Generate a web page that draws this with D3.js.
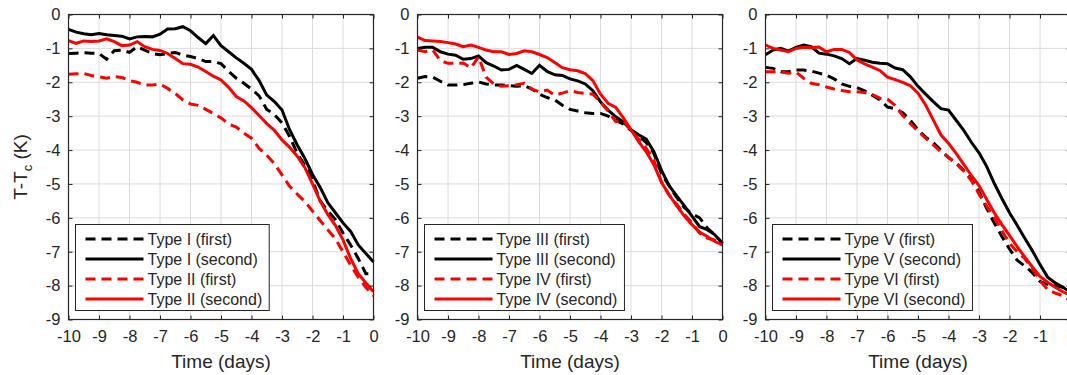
<!DOCTYPE html>
<html>
<head>
<meta charset="utf-8">
<script src="https://cdn.jsdelivr.net/npm/d3@7"></script>
<style>
  body { margin: 0; background: #fff; }
  text { font-family: Arial, "Liberation Sans", sans-serif; fill: #262626; }
</style>
</head>
<body>
<svg id="chart"></svg>
<script>
// time axis (days before event), shared by all series
const times = [-10, -9.75, -9.5, -9.25, -9, -8.75, -8.5, -8.25, -8, -7.75, -7.5, -7.25, -7, -6.75,
  -6.5, -6.25, -6, -5.75, -5.5, -5.25, -5, -4.75, -4.5, -4.25, -4, -3.75, -3.5, -3.25, -3,
  -2.75, -2.5, -2.25, -2, -1.75, -1.5, -1.25, -1, -0.75, -0.5, -0.25, 0];

// panel 1
const typeIFirst = [-1.15, -1.14, -1.13, -1.14, -1.15, -1.32, -1.07, -1.05, -1.12, -0.95, -1.05, -1.15, -1.19, -1.15,
  -1.12, -1.2, -1.24, -1.3, -1.39, -1.39, -1.45, -1.68, -1.88, -2.03, -2.2, -2.4, -2.8, -2.95, -3.2,
  -3.6, -4.1, -4.45, -4.88, -5.5, -5.8, -6.05, -6.45, -6.8, -7.2, -7.65, -7.65];
const typeISecond = [-0.44, -0.52, -0.57, -0.6, -0.56, -0.6, -0.62, -0.64, -0.72, -0.66, -0.65, -0.66, -0.58, -0.43,
  -0.42, -0.36, -0.48, -0.68, -0.86, -0.62, -0.92, -1.1, -1.28, -1.44, -1.62, -1.95, -2.38, -2.57, -2.82,
  -3.4, -3.85, -4.25, -4.72, -5.1, -5.55, -5.85, -6.15, -6.4, -6.8, -7.05, -7.3];
const typeIIFirst = [-1.76, -1.75, -1.74, -1.8, -1.84, -1.88, -1.83, -1.86, -1.95, -2.0, -2.08, -2.08, -2.05, -2.18,
  -2.33, -2.52, -2.64, -2.68, -2.8, -2.92, -3.05, -3.23, -3.32, -3.5, -3.65, -3.95, -4.15, -4.4, -4.73,
  -5.07, -5.3, -5.52, -5.8, -6.08, -6.35, -6.62, -7.0, -7.4, -7.75, -8.05, -8.3];
const typeIISecond = [-0.77, -0.85, -0.78, -0.8, -0.78, -0.72, -0.8, -0.92, -0.9, -0.8, -0.95, -1.03, -1.06, -1.15,
  -1.3, -1.45, -1.47, -1.55, -1.68, -1.82, -1.93, -2.15, -2.42, -2.55, -2.75, -2.98, -3.22, -3.42, -3.7,
  -3.92, -4.18, -4.52, -5.0, -5.5, -5.9, -6.22, -6.65, -7.2, -7.65, -7.92, -8.18];

// panel 2
const typeIIIFirst = [-1.88, -1.83, -1.85, -1.97, -2.08, -2.08, -2.07, -2.03, -1.99, -2.05, -2.08, -2.08, -2.1, -2.12,
  -2.1, -2.2, -2.35, -2.45, -2.52, -2.68, -2.8, -2.85, -2.9, -2.92, -2.92, -3.0, -3.12, -3.24, -3.42,
  -3.58, -3.78, -4.1, -4.7, -5.05, -5.4, -5.7, -5.88, -6.0, -6.3, -6.5, -6.75];
const typeIIISecond = [-1.0, -0.97, -0.97, -1.1, -1.17, -1.2, -1.32, -1.3, -1.22, -1.42, -1.52, -1.64, -1.62, -1.5,
  -1.62, -1.74, -1.5, -1.68, -1.78, -1.8, -1.9, -1.96, -2.05, -2.25, -2.58, -2.82, -3.02, -3.17, -3.4,
  -3.55, -3.68, -4.05, -4.6, -5.05, -5.35, -5.65, -5.95, -6.26, -6.35, -6.5, -6.75];
const typeIVFirst = [-1.05, -1.1, -1.05, -1.36, -1.44, -1.44, -1.43, -1.58, -1.25, -1.85, -2.05, -2.12, -2.1, -2.07,
  -2.03, -2.2, -2.28, -2.23, -2.38, -2.32, -2.25, -2.3, -2.33, -2.35, -2.58, -2.85, -3.16, -3.13, -3.4,
  -3.68, -3.95, -4.3, -4.95, -5.33, -5.6, -5.9, -6.15, -6.45, -6.6, -6.66, -6.8];
const typeIVSecond = [-0.67, -0.77, -0.78, -0.8, -0.83, -0.87, -0.95, -0.9, -0.97, -1.05, -1.1, -1.1, -1.18, -1.15,
  -1.07, -1.1, -1.18, -1.27, -1.42, -1.57, -1.63, -1.66, -1.74, -1.95, -2.35, -2.62, -2.74, -3.05, -3.4,
  -3.75, -4.05, -4.43, -4.95, -5.32, -5.65, -5.95, -6.2, -6.42, -6.55, -6.7, -6.8];

// panel 3
const typeVFirst = [-1.56, -1.59, -1.69, -1.69, -1.64, -1.64, -1.67, -1.73, -1.79, -1.9, -2.05, -2.12, -2.16, -2.25,
  -2.38, -2.52, -2.73, -2.78, -2.9, -3.12, -3.4, -3.62, -3.78, -4.0, -4.22, -4.38, -4.6, -4.85, -5.22,
  -5.72, -6.15, -6.55, -6.92, -7.25, -7.42, -7.62, -7.88, -7.96, -8.0, -8.05, -8.15];
const typeVSecond = [-1.19, -1.05, -1.0, -1.08, -0.97, -0.9, -0.95, -1.14, -1.17, -1.22, -1.3, -1.45, -1.3, -1.35,
  -1.41, -1.44, -1.45, -1.58, -1.63, -1.84, -2.12, -2.35, -2.57, -2.78, -2.82, -3.12, -3.42, -3.77, -4.08,
  -4.48, -4.98, -5.43, -5.85, -6.22, -6.6, -6.97, -7.38, -7.75, -7.92, -8.05, -8.2];
const typeVIFirst = [-1.69, -1.69, -1.69, -1.73, -1.7, -1.88, -2.03, -2.07, -2.14, -2.2, -2.24, -2.28, -2.28, -2.3,
  -2.36, -2.47, -2.5, -2.68, -2.98, -3.22, -3.44, -3.65, -3.85, -4.05, -4.22, -4.4, -4.62, -4.9, -5.3,
  -5.65, -6.0, -6.38, -6.75, -7.0, -7.2, -7.5, -7.85, -8.12, -8.22, -8.3, -8.45];
const typeVISecond = [-0.9, -1.0, -1.05, -1.1, -1.0, -0.97, -0.98, -0.96, -1.1, -1.03, -1.03, -1.12, -1.34, -1.46,
  -1.55, -1.65, -1.85, -1.92, -2.0, -2.1, -2.32, -2.67, -3.11, -3.55, -3.8, -4.1, -4.42, -4.75, -5.05,
  -5.45, -5.85, -6.2, -6.52, -6.85, -7.15, -7.45, -7.73, -7.9, -8.05, -8.18, -8.3];

const legendNames = [
  ["Type I (first)", "Type I (second)", "Type II (first)", "Type II (second)"],
  ["Type III (first)", "Type III (second)", "Type IV (first)", "Type IV (second)"],
  ["Type V (first)", "Type V (second)", "Type VI (first)", "Type VI (second)"]
];
const xTicks = [-10, -9, -8, -7, -6, -5, -4, -3, -2, -1, 0];
const yTicks = [0, -1, -2, -3, -4, -5, -6, -7, -8, -9];

const panels = [
  [typeIFirst, typeISecond, typeIIFirst, typeIISecond],
  [typeIIIFirst, typeIIISecond, typeIVFirst, typeIVSecond],
  [typeVFirst, typeVSecond, typeVIFirst, typeVISecond]
];
const lineColor = ["#000", "#000", "#ff0000", "#ff0000"];
const lineDash = ["10,6", null, "10,6", null];

const width = 1067,
  height = 375;
const panelLeft = [68.5, 417.5, 765.5];
const plotW = 305,
  plotTop = 14.5,
  plotH = 305;
const axisColor = "#262626";

const svg = d3.select("#chart").attr("width", width).attr("height", height);

const x = d3.scaleLinear().domain([-10, 0]).range([0, plotW]);
const y = d3.scaleLinear().domain([-9, 0]).range([plotTop + plotH, plotTop]);

const line = d3
  .line()
  .x((d, i) => x(times[i]))
  .y((d) => y(d));

panels.forEach((series, p) => {
  const g = svg.append("g").attr("transform", `translate(${panelLeft[p]},0)`);

  // grid
  g.append("g")
    .selectAll("line")
    .data(xTicks)
    .join("line")
    .attr("x1", (d) => x(d))
    .attr("x2", (d) => x(d))
    .attr("y1", plotTop)
    .attr("y2", plotTop + plotH)
    .attr("stroke", "#dcdcdc");
  g.append("g")
    .selectAll("line")
    .data(yTicks)
    .join("line")
    .attr("x1", 0)
    .attr("x2", plotW)
    .attr("y1", (d) => y(d))
    .attr("y2", (d) => y(d))
    .attr("stroke", "#dcdcdc");

  // data lines
  g.append("g")
    .selectAll("path")
    .data(series)
    .join("path")
    .attr("d", (d) => line(d))
    .attr("fill", "none")
    .attr("stroke", (d, i) => lineColor[i])
    .attr("stroke-width", 3)
    .attr("stroke-dasharray", (d, i) => lineDash[i]);

  // axes, ticks pointing inward
  g.append("g")
    .attr("transform", `translate(0,${plotTop + plotH})`)
    .style("color", axisColor)
    .call(d3.axisBottom(x).tickValues(xTicks).tickSizeInner(-4).tickSizeOuter(0).tickPadding(11).tickFormat((d) => String(d)));
  g.append("g")
    .style("color", axisColor)
    .call(d3.axisLeft(y).tickValues(yTicks).tickSizeInner(-4).tickSizeOuter(0).tickPadding(8).tickFormat((d) => String(d)));
  g.append("g")
    .attr("transform", `translate(0,${plotTop})`)
    .style("color", axisColor)
    .call(d3.axisTop(x).tickValues(xTicks).tickSizeInner(-4).tickSizeOuter(0).tickFormat(""));
  g.append("g")
    .attr("transform", `translate(${plotW},0)`)
    .style("color", axisColor)
    .call(d3.axisRight(y).tickValues(yTicks).tickSizeInner(-4).tickSizeOuter(0).tickFormat(""));
  g.selectAll(".domain").remove();
  g.selectAll(".tick text").attr("font-size", "16.5px").attr("font-family", null);

  g.append("rect")
    .attr("x", 0)
    .attr("y", plotTop)
    .attr("width", plotW)
    .attr("height", plotH)
    .attr("fill", "none")
    .attr("stroke", axisColor)
    .attr("stroke-width", 1.2);

  g.append("text")
    .attr("x", plotW / 2)
    .attr("y", 368)
    .attr("text-anchor", "middle")
    .attr("font-size", "19px")
    .text("Time (days)");

  // legend
  const lg = g.append("g").attr("transform", `translate(7,224.5)`);
  const box = lg.append("rect")
    .attr("height", 86)
    .attr("fill", "#fff")
    .attr("stroke", axisColor)
    .attr("stroke-width", 1);
  const rows = lg.selectAll(".row")
    .data(legendNames[p])
    .join("g")
    .attr("transform", (d, i) => `translate(0,${14.5 + i * 20})`);
  rows.append("line")
    .attr("x1", 10)
    .attr("x2", 68)
    .attr("stroke", (d, i) => lineColor[i])
    .attr("stroke-width", 3)
    .attr("stroke-dasharray", (d, i) => lineDash[i]);
  const labels = rows.append("text")
    .attr("x", 72)
    .attr("dy", "0.35em")
    .attr("font-size", "16px")
    .text((d) => d);
  let maxW = 0;
  labels.each(function () { maxW = Math.max(maxW, this.getComputedTextLength()); });
  box.attr("width", 72 + maxW + 7);
});

// y label
svg.append("text")
  .attr("transform", `translate(27,${plotTop + plotH / 2}) rotate(-90)`)
  .attr("text-anchor", "middle")
  .attr("font-size", "19px")
  .call((t) => {
    t.append("tspan").text("T-T");
    t.append("tspan").attr("font-size", "13px").attr("dy", "5").text("c");
    t.append("tspan").attr("dy", "-5").text(" (K)");
  });
</script>
</body>
</html>
